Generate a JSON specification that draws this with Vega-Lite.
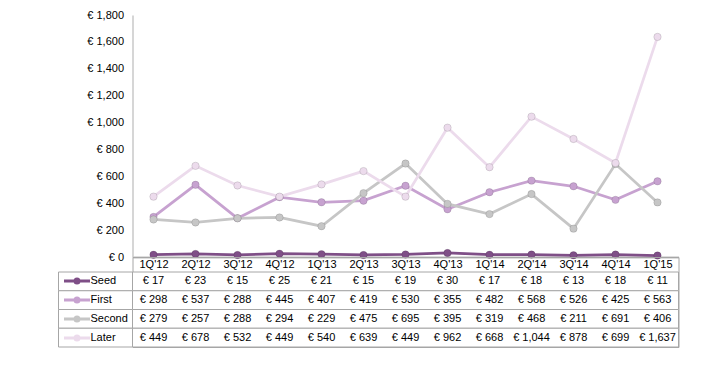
{
  "$schema": "https://vega.github.io/schema/vega-lite/v6.json",
  "padding": {"left": 57.5, "top": 9, "right": 5, "bottom": 5},
  "config": {
    "view": {"stroke": null},
    "font": "Liberation Sans",
    "locale": {"number": {"decimal": ".", "thousands": ",", "grouping": [3], "currency": ["€ ", ""]}}
  },
  "datasets": {
    "d": [
      {"q": "1Q'12", "series": "Seed", "value": 17},
      {"q": "2Q'12", "series": "Seed", "value": 23},
      {"q": "3Q'12", "series": "Seed", "value": 15},
      {"q": "4Q'12", "series": "Seed", "value": 25},
      {"q": "1Q'13", "series": "Seed", "value": 21},
      {"q": "2Q'13", "series": "Seed", "value": 15},
      {"q": "3Q'13", "series": "Seed", "value": 19},
      {"q": "4Q'13", "series": "Seed", "value": 30},
      {"q": "1Q'14", "series": "Seed", "value": 17},
      {"q": "2Q'14", "series": "Seed", "value": 18},
      {"q": "3Q'14", "series": "Seed", "value": 13},
      {"q": "4Q'14", "series": "Seed", "value": 18},
      {"q": "1Q'15", "series": "Seed", "value": 11},
      {"q": "1Q'12", "series": "First", "value": 298},
      {"q": "2Q'12", "series": "First", "value": 537},
      {"q": "3Q'12", "series": "First", "value": 288},
      {"q": "4Q'12", "series": "First", "value": 445},
      {"q": "1Q'13", "series": "First", "value": 407},
      {"q": "2Q'13", "series": "First", "value": 419},
      {"q": "3Q'13", "series": "First", "value": 530},
      {"q": "4Q'13", "series": "First", "value": 355},
      {"q": "1Q'14", "series": "First", "value": 482},
      {"q": "2Q'14", "series": "First", "value": 568},
      {"q": "3Q'14", "series": "First", "value": 526},
      {"q": "4Q'14", "series": "First", "value": 425},
      {"q": "1Q'15", "series": "First", "value": 563},
      {"q": "1Q'12", "series": "Second", "value": 279},
      {"q": "2Q'12", "series": "Second", "value": 257},
      {"q": "3Q'12", "series": "Second", "value": 288},
      {"q": "4Q'12", "series": "Second", "value": 294},
      {"q": "1Q'13", "series": "Second", "value": 229},
      {"q": "2Q'13", "series": "Second", "value": 475},
      {"q": "3Q'13", "series": "Second", "value": 695},
      {"q": "4Q'13", "series": "Second", "value": 395},
      {"q": "1Q'14", "series": "Second", "value": 319},
      {"q": "2Q'14", "series": "Second", "value": 468},
      {"q": "3Q'14", "series": "Second", "value": 211},
      {"q": "4Q'14", "series": "Second", "value": 691},
      {"q": "1Q'15", "series": "Second", "value": 406},
      {"q": "1Q'12", "series": "Later", "value": 449},
      {"q": "2Q'12", "series": "Later", "value": 678},
      {"q": "3Q'12", "series": "Later", "value": 532},
      {"q": "4Q'12", "series": "Later", "value": 449},
      {"q": "1Q'13", "series": "Later", "value": 540},
      {"q": "2Q'13", "series": "Later", "value": 639},
      {"q": "3Q'13", "series": "Later", "value": 449},
      {"q": "4Q'13", "series": "Later", "value": 962},
      {"q": "1Q'14", "series": "Later", "value": 668},
      {"q": "2Q'14", "series": "Later", "value": 1044},
      {"q": "3Q'14", "series": "Later", "value": 878},
      {"q": "4Q'14", "series": "Later", "value": 699},
      {"q": "1Q'15", "series": "Later", "value": 1637}
    ]
  },
  "data": {"name": "d"},
  "columns": 2,
  "spacing": 0,
  "bounds": "flush",
  "resolve": {"legend": {"color": "independent"}},
  "concat": [
    {
      "width": 74,
      "height": 242,
      "data": {"values": []},
      "mark": "point",
      "encoding": {}
    },
    {
      "width": 546,
      "height": 242,
      "encoding": {
        "x": {"field": "q", "type": "nominal", "sort": null,
          "axis": {"labels": false, "ticks": false, "domain": true, "domainColor": "#bdbdbd", "domainWidth": 2, "title": null, "grid": false}},
        "y": {"field": "value", "type": "quantitative",
          "scale": {"domain": [0, 1800], "nice": false},
          "axis": {"values": [0, 200, 400, 600, 800, 1000, 1200, 1400, 1600, 1800], "format": "$,d", "title": null, "ticks": false, "grid": false,
            "domainColor": "#c8c8c8", "domainWidth": 1.5, "labelFontSize": 11, "labelColor": "#000", "labelPadding": 9}},
        "color": {"field": "series", "type": "nominal",
          "scale": {"domain": ["Seed", "First", "Second", "Later"], "range": ["#7f4f87", "#c7a2d0", "#c6c6c6", "#ecdbec"]},
          "legend": null}
      },
      "layer": [
        {"mark": {"type": "line", "strokeWidth": 2.75}},
        {"mark": {"type": "point", "filled": true, "size": 55, "opacity": 1, "stroke": "#000", "strokeOpacity": 0.12, "strokeWidth": 1}}
      ]
    },
    {
      "width": 74,
      "height": 90,
      "transform": [{"aggregate": [{"op": "count", "as": "n"}], "groupby": ["series"]}],
      "encoding": {
        "y": {"field": "series", "type": "nominal",
          "scale": {"domain": ["Seed", "First", "Second", "Later"], "paddingInner": 0, "paddingOuter": 0.4, "align": 1},
          "axis": null}
      },
      "layer": [
        {"mark": {"type": "rect", "fill": "#ffffff", "stroke": "#a6a6a6", "strokeWidth": 1}},
        {"mark": {"type": "rule", "opacity": 0},
          "encoding": {
            "color": {"field": "series", "type": "nominal",
              "scale": {"domain": ["Seed", "First", "Second", "Later"], "range": ["#7f4f87", "#c7a2d0", "#c6c6c6", "#ecdbec"]},
              "legend": {"orient": "none", "legendX": 13, "legendY": 18.4, "title": null, "padding": 0,
                "symbolType": "M-3.25,0H3.25M0.5,0A0.5,0.5,0,1,1,-0.5,0A0.5,0.5,0,1,1,0.5,0",
                "symbolSize": 64, "symbolStrokeWidth": 3, "symbolOpacity": 1,
                "labelFontSize": 11, "labelColor": "#000", "labelOffset": 8, "rowPadding": 2.05}}
          }}
      ]
    },
    {
      "width": 546,
      "height": 90,
      "view": {"stroke": "#a6a6a6"},
      "encoding": {
        "y": {"field": "series", "type": "nominal",
          "scale": {"domain": ["Seed", "First", "Second", "Later"], "paddingInner": 0, "paddingOuter": 0.4, "align": 1},
          "axis": null}
      },
      "layer": [
        {"transform": [{"aggregate": [{"op": "count", "as": "n"}], "groupby": ["series"]}],
          "mark": {"type": "rect", "fill": "#ffffff", "stroke": "#a6a6a6", "strokeWidth": 1}},
        {"mark": {"type": "text", "fontSize": 11, "color": "#000"},
          "encoding": {
            "x": {"field": "q", "type": "nominal", "sort": null,
              "axis": {"orient": "top", "offset": -15, "domain": false, "ticks": false, "labelPadding": 3, "labelFontSize": 11, "labelColor": "#000", "labelAngle": 0, "title": null, "grid": false}},
            "text": {"field": "value", "type": "quantitative", "format": "$,"}
          }}
      ]
    }
  ]
}
